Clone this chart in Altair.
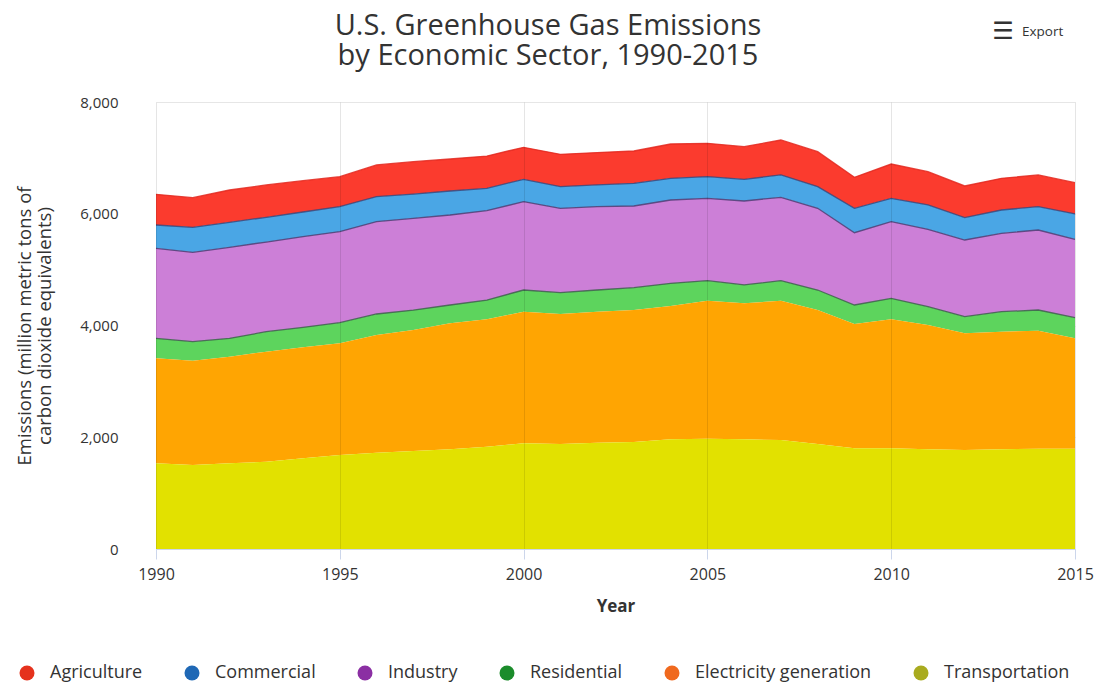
import altair as alt
import pandas as pd

years = list(range(1990, 2016))
transportation = [1533, 1503, 1533, 1563, 1623, 1682, 1724, 1754, 1784, 1831, 1891, 1879, 1903,
                  1915, 1963, 1975, 1963, 1951, 1879, 1802, 1802, 1784, 1772, 1784, 1796, 1796]
electricity = [1880, 1867, 1909, 1968, 1986, 1999, 2106, 2165, 2255, 2279, 2356, 2327, 2344,
               2362, 2386, 2469, 2434, 2493, 2398, 2225, 2308, 2225, 2088, 2105, 2111, 1975]
residential = [358, 340, 329, 358, 359, 369, 376, 358, 328, 346, 388, 382, 388,
               400, 406, 359, 330, 359, 358, 340, 377, 328, 298, 358, 370, 369]
industry = [1611, 1600, 1629, 1605, 1622, 1630, 1652, 1641, 1611, 1599, 1581, 1509, 1492,
            1462, 1491, 1473, 1501, 1491, 1462, 1294, 1371, 1385, 1372, 1403, 1432, 1403]
commercial = [417, 447, 447, 442, 441, 446, 447, 435, 429, 400, 400, 387, 388,
              406, 388, 388, 388, 400, 387, 436, 418, 435, 400, 417, 418, 453]
agriculture = [549, 531, 578, 579, 561, 538, 568, 579, 573, 578, 573, 580, 579,
               578, 614, 596, 584, 626, 627, 555, 614, 596, 567, 567, 567, 560]

sectors = ["Agriculture", "Commercial", "Industry", "Residential",
           "Electricity generation", "Transportation"]
stack_order = ["Transportation", "Electricity generation", "Residential",
               "Industry", "Commercial", "Agriculture"]
series = {
    "Agriculture": agriculture,
    "Commercial": commercial,
    "Industry": industry,
    "Residential": residential,
    "Electricity generation": electricity,
    "Transportation": transportation,
}
fill_colors = ["#fb3b2e", "#4aa6e5", "#cc7fd7", "#5dd45d", "#ffa502", "#e2e100"]
line_colors = ["#e2281e", "#3a4478", "#4b3b72", "#3d5c4c", "transparent", "transparent"]
legend_colors = ["#e5321d", "#1f68b5", "#8b2fa3", "#1b8c2b", "#f0691e", "#a9ab1f"]

x_ticks = [1990, 1995, 2000, 2005, 2010, 2015]
y_ticks = [0, 2000, 4000, 6000, 8000]

title_lines = ["U.S. Greenhouse Gas Emissions", "by Economic Sector, 1990-2015"]
y_title = ["Emissions (million metric tons of", "carbon dioxide equivalents)"]
x_title = "Year"
export_label = ["Export"]
export_icon = ["\u2630"]

rows = []
for s in sectors:
    for yr, v in zip(years, series[s]):
        rows.append({"year": yr, "sector": s, "value": v, "rank": stack_order.index(s)})
df = pd.DataFrame(rows)

FONT = "Open Sans"

x_enc = alt.X(
    "year:Q",
    scale=alt.Scale(domain=[1990, 2015], nice=False, zero=False),
    axis=alt.Axis(
        values=x_ticks, format="d", title=x_title, grid=True,
        gridColor="#000000", gridOpacity=0.1, zindex=1, labelFlush=False,
        domainColor="#ccd6eb", tickColor="#ccd6eb", tickSize=10,
        labelPadding=7, labelFontSize=16, labelColor="#333333", labelFont=FONT,
        titleFontSize=17, titleFontWeight="bold", titleColor="#333333",
        titleFont=FONT, titlePadding=16,
    ),
)
y_enc = alt.Y(
    "y1:Q",
    scale=alt.Scale(domain=[0, 8000], nice=False),
    axis=alt.Axis(
        values=y_ticks, format=",.0f", title=y_title, domain=False, ticks=False,
        labelPadding=38, gridColor="#e6e6e6", labelFontSize=15,
        labelColor="#333333", labelFont=FONT, titleFontSize=18.5,
        titleFontWeight="normal", titleColor="#333333", titleFont=FONT,
        titlePadding=25, titleLineHeight=20,
    ),
)

base = alt.Chart(df).transform_stack(
    stack="value", groupby=["year"], as_=["y0", "y1"],
    sort=[alt.SortField("rank", order="ascending")],
)

area = base.mark_area(opacity=1).encode(
    x=x_enc, y=y_enc, y2="y0:Q",
    color=alt.Color("sector:N", scale=alt.Scale(domain=sectors, range=fill_colors), legend=None),
)

lines = base.mark_line(strokeWidth=1.3, opacity=0.85).encode(
    x=x_enc, y=y_enc,
    color=alt.Color("sector:N", scale=alt.Scale(domain=sectors, range=line_colors), legend=None),
)

legend_pts = base.mark_point(filled=True, opacity=0, size=10).encode(
    x=x_enc, y=y_enc,
    color=alt.Color(
        "sector:N",
        scale=alt.Scale(domain=sectors, range=legend_colors),
        legend=alt.Legend(
            title=None, orient="none", legendX=-138, legendY=562,
            direction="horizontal", symbolType="circle", symbolSize=225,
            symbolOpacity=1, symbolStrokeWidth=0, labelFontSize=18,
            labelColor="#333333", labelFont=FONT, labelOffset=14,
            columnPadding=40, padding=0, labelLimit=400,
        ),
    ),
)

title_text = alt.Chart(pd.DataFrame({"label": ["\n".join(title_lines)]})).mark_text(
    align="center", baseline="alphabetic", fontSize=29, font=FONT,
    color="#333333", lineBreak="\n", lineHeight=30,
).encode(x=alt.value(392), y=alt.value(-67), text="label:N")

export_text = alt.Chart(pd.DataFrame({"label": export_label})).mark_text(
    align="left", baseline="middle", fontSize=13.5, font=FONT, color="#333333"
).encode(x=alt.value(866), y=alt.value(-70), text="label:N")

export_glyph = alt.Chart(pd.DataFrame({"label": export_icon})).mark_text(
    align="center", baseline="middle", fontSize=24, font="DejaVu Sans",
    fontWeight="bold", color="#333333"
).encode(x=alt.value(847), y=alt.value(-70), text="label:N")

chart = alt.layer(area, lines, legend_pts, title_text, export_text, export_glyph).resolve_scale(
    color="independent"
).properties(
    width=919, height=447,
    autosize="none",
    padding={"left": 148, "top": 94, "right": 19, "bottom": 134},
    background="white",
).configure_view(strokeWidth=0)

chart.save("out.html", embed_options={"renderer": "svg", "actions": False})
